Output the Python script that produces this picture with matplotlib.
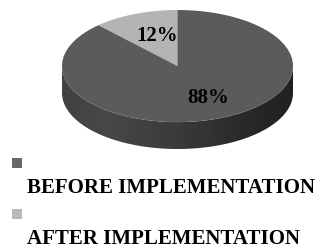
import numpy as np
import matplotlib.pyplot as plt
import matplotlib.transforms as mtransforms
from matplotlib.patches import Rectangle, Polygon

labels = ['AFTER IMPLEMENTATION', 'BEFORE IMPLEMENTATION']
shares = [12, 88]
top_colors = ['#b4b4b4', '#5b5b5b']
legend_colors = ['#676767', '#b9b9b9']   # legend order: before, after
legend_labels = ['BEFORE IMPLEMENTATION', 'AFTER IMPLEMENTATION']

plt.rcParams['font.family'] = ['Liberation Serif', 'DejaVu Serif']

W, H = 322, 250
fig = plt.figure(figsize=(W / 100, H / 100), dpi=100)

# pie axes: x in [-1, 1] -> 62..293 px, top face y in [-1, 1] -> 122..10 px
depth = 0.48
left, right, top, bottom = 62, 293, 10, 149
ax = fig.add_axes([left / W, 1 - bottom / H, (right - left) / W, (bottom - top) / H])

wedges, texts, autotexts = ax.pie(shares, colors=top_colors, startangle=90,
                                  counterclock=True, autopct='%d%%', pctdistance=0.6,
                                  textprops=dict(fontsize=15, fontweight='bold', color='black'))
for w in wedges:
    w.set_zorder(3)
# nudge labels slightly right (perspective look of the original)
shift = mtransforms.ScaledTranslation(5 / 100, -1 / 100, fig.dpi_scale_trans)
for t in autotexts:
    t.set_zorder(5)
    t.set_transform(t.get_transform() + shift)
ax.set_aspect('auto')
ax.set_xlim(-1, 1)
ax.set_ylim(-1 - depth, 1)
ax.axis('off')

# side of the pie (front half, all within the big slice)
t = np.linspace(np.pi, 2 * np.pi, 200)
xs = np.cos(t)
ys = np.sin(t)
side = Polygon(np.column_stack([np.r_[xs, xs[::-1]], np.r_[ys, ys[::-1] - depth]]),
               closed=True, facecolor='none', edgecolor='none')
ax.add_patch(side)
g = np.linspace(0, 1, 256)
shade = np.interp(g, [0, 0.2, 0.5, 0.8, 1], [0.26, 0.28, 0.23, 0.16, 0.13])
img = ax.imshow(np.tile(shade, (2, 1)), cmap='gray', vmin=0, vmax=1, aspect='auto',
                extent=(-1, 1, -1 - depth, 0), zorder=1)
img.set_clip_path(side)

# legend, marker on one line and label below
for i, (lab, col) in enumerate(zip(legend_labels, legend_colors)):
    y0 = 158 + i * 51
    fig.patches.append(Rectangle((12 / W, 1 - (y0 + 10) / H), 10 / W, 10 / H,
                                 transform=fig.transFigure, facecolor=col, edgecolor='none'))
    fig.text(27 / W, 1 - (y0 + 30) / H, lab, fontsize=15, fontweight='bold',
             ha='left', va='center')

fig.savefig('out.png', dpi=100)
